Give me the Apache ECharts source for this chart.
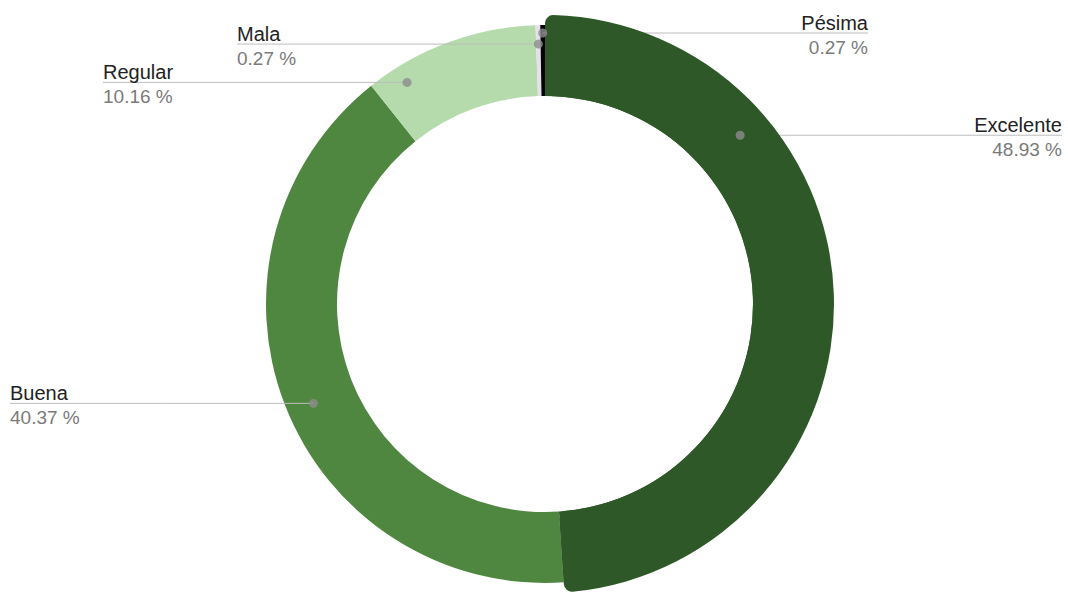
<!DOCTYPE html>
<html><head><meta charset="utf-8">
<script src="https://cdn.jsdelivr.net/npm/echarts@6/dist/echarts.min.js"></script>
<style>html,body{margin:0;padding:0;background:#fff}#c{width:1068px;height:592px}</style>
</head><body><div id="c"></div>
<script>
// ---- data ----
const categories = ['Excelente', 'Buena', 'Regular', 'Mala', 'Pésima'];
const percentages = [48.93, 40.37, 10.16, 0.27, 0.27];
const valueLabels = ['48.93 %', '40.37 %', '10.16 %', '0.27 %', '0.27 %'];

// ---- layout / style ----
const sliceColors = ['#2e5828', '#4f8740', '#b5dbad', '#e6e0ee', '#050505'];
const CX = 545, CY = 304, R_IN = 208, R_OUT = 279, R_HI = 289;
const labelSide = ['right', 'left', 'left', 'left', 'right'];
const labelEdge = [1062, 10, 103, 237, 868];
const dotFrac = [0.279, 0.486, 0.181, 0.5, 0.5];
const dotRadius = [258, 252, 261, 260, 271];
const FONT = '"Liberation Sans", Arial, sans-serif';

const starts = [];
percentages.reduce((acc, v, i) => { starts[i] = acc; return acc + v; }, 0);
const dotData = percentages.map((v, i) => [dotRadius[i], starts[i] + dotFrac[i] * v]);

const baseData = categories.map((n, i) => ({ name: n, value: percentages[i], itemStyle: { color: sliceColors[i] } }));
const hiData = categories.map((n, i) => ({
  name: n, value: percentages[i],
  itemStyle: i === 0 ? { color: sliceColors[0], borderRadius: 8 } : { color: 'rgba(0,0,0,0)' }
}));

const chart = echarts.init(document.getElementById('c'), null, { renderer: 'svg' });

const option = {
  animation: false,
  backgroundColor: '#ffffff',
  polar: { center: [CX, CY], radius: R_OUT },
  angleAxis: { type: 'value', min: 0, max: 100, startAngle: 90, clockwise: true, show: false },
  radiusAxis: { type: 'value', min: 0, max: R_OUT, show: false },
  series: [
    {
      type: 'pie', center: [CX, CY], radius: [R_IN, R_OUT], startAngle: 90, clockwise: true,
      silent: true, label: { show: false }, labelLine: { show: false },
      data: baseData, z: 1
    },
    {
      type: 'pie', center: [CX, CY], radius: [R_IN, R_HI], startAngle: 90, clockwise: true,
      silent: true, avoidLabelOverlap: false, z: 2,
      label: {
        show: true, position: 'outside',
        formatter: p => '{n|' + p.name + '}\n{v|' + valueLabels[p.dataIndex] + '}',
        rich: {
          n: { fontFamily: FONT, fontSize: 20, color: '#222222', lineHeight: 21 },
          v: { fontFamily: FONT, fontSize: 19, color: '#7a7a7a', lineHeight: 28 }
        }
      },
      labelLine: { show: true, lineStyle: { color: '#bdbdbd', width: 1 } },
      data: hiData
    },
    {
      type: 'scatter', coordinateSystem: 'polar', silent: true, z: 5,
      symbol: 'circle', symbolSize: 9, itemStyle: { color: '#8c8c8c' },
      data: dotData
    }
  ]
};
chart.setOption(option);

const dots = dotData.map(d => {
  let p = null;
  try { p = chart.convertToPixel({ seriesIndex: 2 }, d); } catch (e) { p = null; }
  if (!p) {
    const a = (90 - d[1] * 3.6) * Math.PI / 180;
    p = [CX + d[0] * Math.cos(a), CY - d[0] * Math.sin(a)];
  }
  return p;
});

chart.setOption({
  series: [{}, {
    labelLayout: function (p) {
      const i = p.dataIndex;
      const d = dots[i];
      const right = labelSide[i] === 'right';
      const ex = labelEdge[i];
      return {
        x: ex, y: d[1] - 21, align: right ? 'right' : 'left', verticalAlign: 'top',
        labelLinePoints: [[d[0], d[1]], [(d[0] + ex) / 2, d[1]], [ex, d[1]]]
      };
    }
  }, {}]
});
</script>
</body></html>
